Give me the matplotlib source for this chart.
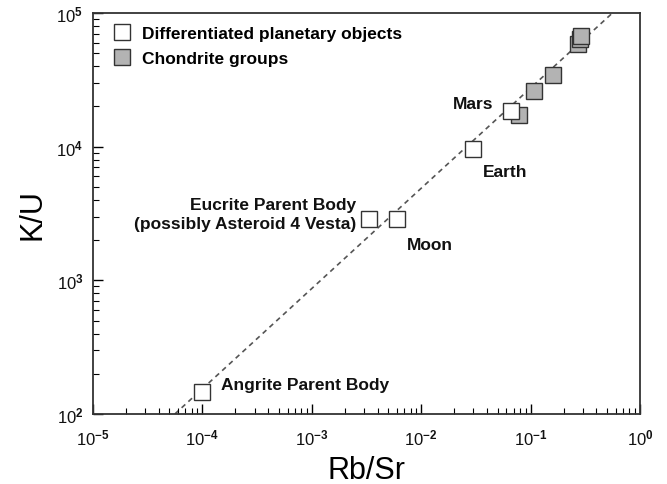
import matplotlib
matplotlib.use("Agg")
import matplotlib.pyplot as plt
from matplotlib.lines import Line2D

plt.rcParams['font.family'] = ['Liberation Sans', 'DejaVu Sans']
plt.rcParams['mathtext.fontset'] = 'custom'
plt.rcParams['mathtext.rm'] = 'Liberation Sans:bold'
plt.rcParams['mathtext.default'] = 'rm'

# Differentiated planetary objects
diff_names = ["Angrite Parent Body", "Eucrite Parent Body", "Moon", "Earth", "Mars"]
diff_rbsr = [1.0e-4, 3.3e-3, 6.0e-3, 0.030, 0.066]
diff_ku = [146, 2880, 2860, 9600, 18600]

# Chondrite groups
chon_rbsr = [0.078, 0.107, 0.160, 0.272, 0.283, 0.290]
chon_ku = [17400, 25900, 34600, 58900, 64100, 67600]

# Reference trend line (dashed)
line_rbsr = [5.6e-5, 0.56]
line_ku = [1e2, 1e5]

fig = plt.figure(figsize=(6.67, 4.85), dpi=100)
ax = fig.add_axes([93/667, 1-415/485, (640-93)/667, (415-14)/485])

ax.plot(line_rbsr, line_ku, linestyle=(0, (3, 2.5)), color='#555555', lw=1.2, zorder=1)

ms = 11
ax.plot(chon_rbsr, chon_ku, 's', ms=ms, mfc='#b3b3b3', mec='#333333', mew=1.0,
        linestyle='none', zorder=2)
ax.plot(diff_rbsr, diff_ku, 's', ms=ms, mfc='white', mec='#333333', mew=1.0,
        linestyle='none', zorder=3)

ax.set_xscale('log')
ax.set_yscale('log')
ax.set_xlim(1e-5, 1e0)
ax.set_ylim(1e2, 1e5)

ax.set_xticks([1e-5, 1e-4, 1e-3, 1e-2, 1e-1, 1e0])
ax.set_xticklabels([r'10$^{-5}$', r'10$^{-4}$', r'10$^{-3}$', r'10$^{-2}$', r'10$^{-1}$', r'10$^{0}$'])
ax.set_yticks([1e2, 1e3, 1e4, 1e5])
ax.set_yticklabels([r'10$^{2}$', r'10$^{3}$', r'10$^{4}$', r'10$^{5}$'])

ax.tick_params(axis='both', which='major', direction='in', length=7, width=1,
               labelsize=12, top=False, right=False, labelcolor='#111111')
ax.tick_params(axis='both', which='minor', direction='in', length=4, width=0.8,
               top=False, right=False)
ax.tick_params(axis='x', which='major', pad=10)
ax.tick_params(axis='y', which='major', pad=7)
for s in ax.spines.values():
    s.set_linewidth(1.3)
    s.set_color('#333333')

ax.set_xlabel('Rb/Sr', fontsize=22, labelpad=5)
ax.set_ylabel('K/U', fontsize=22, labelpad=6)

tk = dict(fontsize=12.5, fontweight='bold', color='#111111')
ax.annotate("Angrite Parent Body", (diff_rbsr[0], diff_ku[0]), xytext=(19, 8),
            textcoords='offset pixels', ha='left', va='center', **tk)
ax.annotate("Eucrite Parent Body\n(possibly Asteroid 4 Vesta)", (diff_rbsr[1], diff_ku[1]),
            xytext=(-12, 5), textcoords='offset pixels', ha='right', va='center',
            multialignment='right', linespacing=1.35, **tk)
ax.annotate("Moon", (diff_rbsr[2], diff_ku[2]), xytext=(10, -25),
            textcoords='offset pixels', ha='left', va='center', **tk)
ax.annotate("Earth", (diff_rbsr[3], diff_ku[3]), xytext=(9, -22),
            textcoords='offset pixels', ha='left', va='center', **tk)
ax.annotate("Mars", (diff_rbsr[4], diff_ku[4]), xytext=(-17, 7),
            textcoords='offset pixels', ha='right', va='center', **tk)

handles = [
    Line2D([], [], marker='s', ms=ms, mfc='white', mec='#333333', mew=1.0, linestyle='none'),
    Line2D([], [], marker='s', ms=ms, mfc='#b3b3b3', mec='#333333', mew=1.0, linestyle='none'),
]
ax.legend(handles, ["Differentiated planetary objects", "Chondrite groups"],
          loc='upper left', bbox_to_anchor=(0.0, 1.0), frameon=False,
          prop={'size': 12.5, 'weight': 'bold'}, handletextpad=0.3,
          labelspacing=0.58, borderaxespad=0.35, borderpad=0.4, handlelength=1.8)

fig.savefig('out.png', dpi=100)
